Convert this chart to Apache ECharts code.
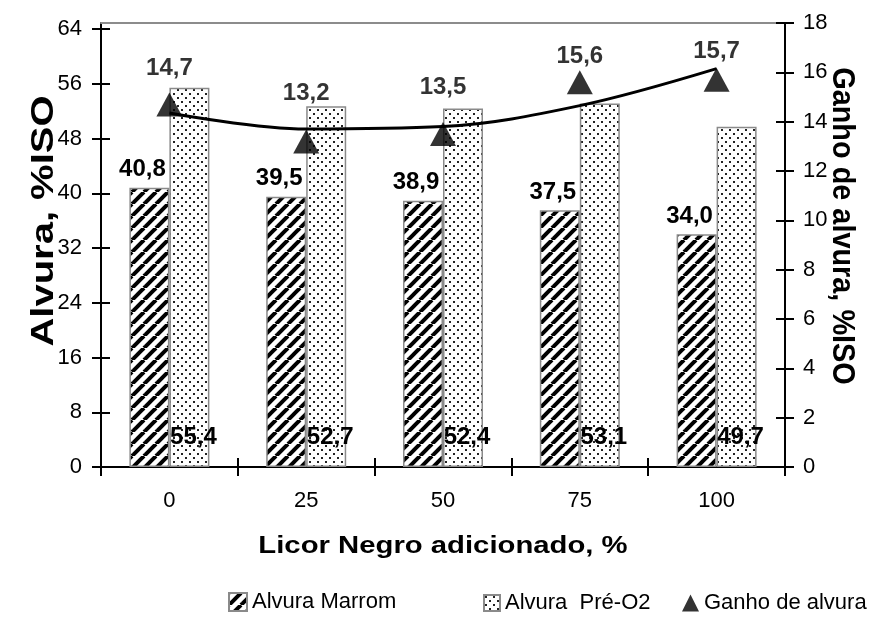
<!DOCTYPE html>
<html><head><meta charset="utf-8">
<script src="https://cdn.jsdelivr.net/npm/echarts@6/dist/echarts.min.js"></script>
<style>html,body{margin:0;padding:0;background:#fff}#c{width:875px;height:630px}</style>
</head><body><div id="c"></div>
<script>
// ---- data ----
const categories = ['0', '25', '50', '75', '100'];
const alvuraMarrom = [40.8, 39.5, 38.9, 37.5, 34.0];
const alvuraPreO2 = [55.4, 52.7, 52.4, 53.1, 49.7];
const ganhoAlvura = [14.7, 13.2, 13.5, 15.6, 15.7];
const ganhoTrend = [14.35, 13.7, 13.8, 14.65, 16.15]; // trend line read at each category
const leftAxis = { min: 0, max: 64, interval: 8 };
const rightAxis = { min: 0, max: 18, interval: 2 };
const seriesNames = ['Alvura Marrom', 'Alvura  Pré-O2', 'Ganho de alvura'];
// label gaps above triangles (style only)
const ganhoLabelGap = [12, 24, 23, 2, 4];

const fmt = v => Number(v).toFixed(1).replace('.', ',');

function hatchPattern() {
  const T = 12, c = document.createElement('canvas');
  c.width = T; c.height = T;
  const g = c.getContext('2d');
  g.fillStyle = '#fff'; g.fillRect(0, 0, T, T);
  g.strokeStyle = '#000'; g.lineWidth = 4;
  for (const x0 of [-T, 0, T]) { g.beginPath(); g.moveTo(x0, T); g.lineTo(x0 + T, 0); g.stroke(); }
  return c;
}
function dotPattern() {
  const W = 8, H = 8, c = document.createElement('canvas');
  c.width = W; c.height = H;
  const g = c.getContext('2d');
  g.fillStyle = '#fff'; g.fillRect(0, 0, W, H);
  g.fillStyle = '#222';
  g.fillRect(1, 1, 2, 2); g.fillRect(5, 5, 2, 2);
  return c;
}

const black = '#000';
const FONT = 'Liberation Sans';
const tickFont = { fontFamily: FONT, fontSize: 22, color: black };
const dataLabelFont = { fontFamily: FONT, fontWeight: 'bold', fontSize: 24, color: black };
const axLine = { show: true, onZero: false, lineStyle: { color: black, width: 2 } };
const tickOut = { show: true, length: 9, lineStyle: { color: black, width: 2 } };
const tickIn = { show: true, inside: true, length: 9, lineStyle: { color: black, width: 2 } };

const chart = echarts.init(document.getElementById('c'), null, { renderer: 'canvas' });
chart.setOption({
  animation: false,
  backgroundColor: '#fff',
  grid: [
    { left: 101, right: 90, top: 29, bottom: 163 },
    { left: 101, right: 90, top: 23, bottom: 163 }
  ],
  xAxis: [
    { gridIndex: 0, type: 'category', data: categories, position: 'bottom',
      axisLine: axLine, axisTick: tickOut, axisLabel: Object.assign({ margin: 23 }, tickFont), splitLine: { show: false } },
    { gridIndex: 0, type: 'category', data: categories, position: 'bottom',
      axisLine: { show: false, onZero: false }, axisTick: tickIn, axisLabel: { show: false }, splitLine: { show: false } },
    { gridIndex: 1, type: 'category', data: categories, position: 'top',
      axisLine: { show: true, onZero: false, lineStyle: { color: '#8c8c8c', width: 2 } },
      axisTick: { show: false }, axisLabel: { show: false }, splitLine: { show: false } }
  ],
  yAxis: [
    Object.assign({ gridIndex: 0, type: 'value', position: 'left',
      axisLine: axLine, axisTick: tickOut, axisLabel: Object.assign({ margin: 19 }, tickFont), splitLine: { show: false } }, leftAxis),
    Object.assign({ gridIndex: 0, type: 'value', position: 'left',
      axisLine: { show: false, onZero: false }, axisTick: tickIn, axisLabel: { show: false }, splitLine: { show: false } }, leftAxis),
    Object.assign({ gridIndex: 1, type: 'value', position: 'right',
      axisLine: axLine, axisTick: tickOut, axisLabel: Object.assign({ margin: 18 }, tickFont), splitLine: { show: false } }, rightAxis),
    Object.assign({ gridIndex: 1, type: 'value', position: 'right',
      axisLine: { show: false, onZero: false }, axisTick: tickIn, axisLabel: { show: false }, splitLine: { show: false } }, rightAxis),
    Object.assign({ gridIndex: 1, type: 'value', position: 'left',
      axisLine: axLine, axisTick: { show: false }, axisLabel: { show: false }, splitLine: { show: false } }, rightAxis)
  ],
  legend: [
    { left: 228, top: 591, data: [seriesNames[0]], icon: 'rect', itemWidth: 18, itemHeight: 18, padding: 0,
      textStyle: { fontFamily: FONT, fontSize: 22, color: black }, selectedMode: false },
    { left: 483, top: 592, data: [seriesNames[1]], icon: 'rect', itemWidth: 16, itemHeight: 16, padding: 0,
      textStyle: { fontFamily: FONT, fontSize: 22, color: black }, selectedMode: false },
    { left: 682, top: 592, data: [seriesNames[2]], itemWidth: 17, itemHeight: 17, padding: 0,
      textStyle: { fontFamily: FONT, fontSize: 22, color: black }, selectedMode: false }
  ],
  graphic: [
    { type: 'text', x: 443, y: 546, scaleX: 1.22, silent: true,
      style: { text: 'Licor Negro adicionado, %', font: 'bold 24px "Liberation Sans"', fill: black, align: 'center', verticalAlign: 'middle' } },
    { type: 'text', x: 44, y: 221, rotation: Math.PI / 2, scaleX: 1.25, scaleY: 1.0, silent: true,
      style: { text: 'Alvura, %ISO', font: 'bold 32px "Liberation Sans"', fill: black, align: 'center', verticalAlign: 'middle' } },
    { type: 'text', x: 842, y: 226, rotation: -Math.PI / 2, scaleX: 1.11, scaleY: 1.2, silent: true,
      style: { text: 'Ganho de alvura, %ISO', font: 'bold 26px "Liberation Sans"', fill: black, align: 'center', verticalAlign: 'middle' } }
  ],
  series: [
    { name: seriesNames[0], type: 'bar', xAxisIndex: 0, yAxisIndex: 0, data: alvuraMarrom,
      barWidth: 40, barGap: '0%', z: 2,
      itemStyle: { color: { image: hatchPattern(), repeat: 'repeat' }, borderColor: '#8a8a8a', borderWidth: 1.5 },
      label: Object.assign({ show: true, position: 'top', distance: 6, offset: [-7, 0], formatter: p => fmt(p.value) }, dataLabelFont),
      emphasis: { disabled: true } },
    { name: seriesNames[1], type: 'bar', xAxisIndex: 0, yAxisIndex: 0, data: alvuraPreO2,
      barWidth: 40, barGap: '0%', z: 2,
      itemStyle: { color: { image: dotPattern(), repeat: 'repeat' }, borderColor: '#8a8a8a', borderWidth: 1.5 },
      label: Object.assign({ show: true, position: 'insideBottom', distance: 18, offset: [4, 0], formatter: p => fmt(p.value) }, dataLabelFont),
      emphasis: { disabled: true } },
    { name: 'Tendência', type: 'line', xAxisIndex: 2, yAxisIndex: 2, data: ganhoTrend,
      smooth: 0.35, symbol: 'none', lineStyle: { color: black, width: 3 }, z: 3, silent: true },
    { name: seriesNames[2], type: 'scatter', xAxisIndex: 2, yAxisIndex: 2,
      data: ganhoAlvura.map((v, i) => ({ value: v, label: { distance: ganhoLabelGap[i] } })),
      symbol: 'triangle', symbolSize: [26, 24], itemStyle: { color: black }, z: 4,
      label: Object.assign({ show: true, position: 'top', formatter: p => fmt(p.value) }, dataLabelFont),
      emphasis: { disabled: true } }
  ]
});
</script>
</body></html>
